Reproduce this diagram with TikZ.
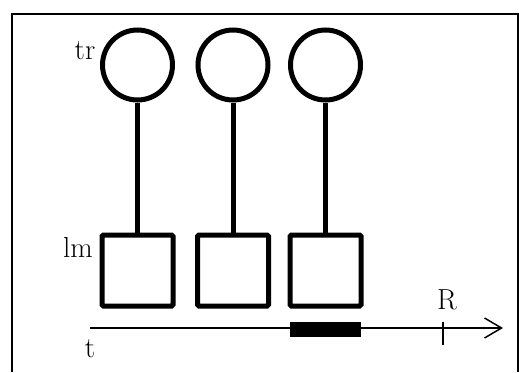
\documentclass[tikz,border=0pt]{standalone}
\usepackage{fontspec}
\usetikzlibrary{arrows.meta}
\begin{document}
\begin{tikzpicture}[x=1pt,y=-1pt,
  trc/.style={circle,draw,line width=5pt,minimum size=70pt,inner sep=0pt},
  lmb/.style={rectangle,draw,line width=5pt,minimum size=71pt,inner sep=0pt,rounded corners=1.5pt},
  stem/.style={line width=5pt},
  lbl/.style={font=\fontsize{29}{29}\selectfont,inner sep=0pt,anchor=base}]
\useasboundingbox (0,0) rectangle (519,372);
\draw[line width=2.7pt] (12,372) -- (12,14) -- (518,14) -- (518,372);
\foreach \i/\x in {1/137.5,2/233,3/325.5}{
  \node[trc] (c\i) at (\x,65) {};
  \node[lmb] (s\i) at (\x,270.5) {};
  \draw[stem] (c\i.south) -- (s\i.north);
}
\node[lbl] (tr) at (85,59) {tr};
\node[lbl] (lm) at (78,257) {lm};
\coordinate (a0) at (90,328);
\coordinate (a1) at (503,328);
\draw[line width=1.5pt,-{Straight Barb[length=17pt,width=20pt,line width=1.5pt]}] (a0) -- (a1);
\node[fill=black,minimum width=71pt,minimum height=15pt,inner sep=0pt] (bar) at (325.5,329.5) {};
\coordinate (r0) at (443,322);
\coordinate (r1) at (443,345);
\draw[line width=1.5pt] (r0) -- (r1);
\node[lbl] (R) at (447,309) {R};
\node[lbl] (t) at (90,357) {t};
\end{tikzpicture}
\end{document}
